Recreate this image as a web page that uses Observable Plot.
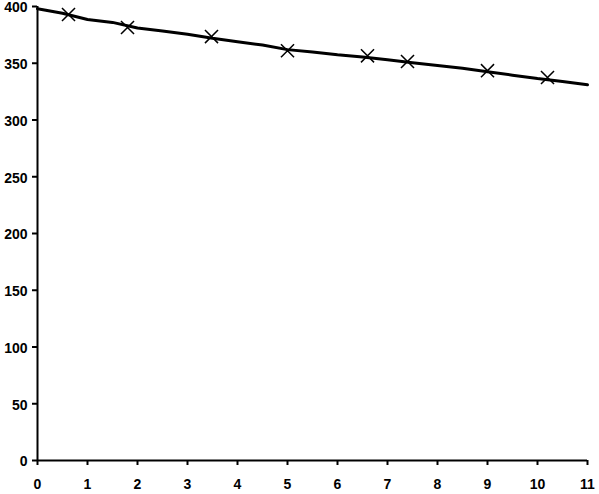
<!DOCTYPE html>
<html>
<head>
<meta charset="utf-8">
<script src="https://cdn.jsdelivr.net/npm/d3@7"></script>
<script src="https://cdn.jsdelivr.net/npm/@observablehq/plot@0.6"></script>
<style>
  html, body { margin: 0; padding: 0; background: #fff; }
  #chart svg { display: block; }
</style>
</head>
<body>
<div id="chart"></div>
<script>
// Measured points (x markers)
const markerX = [0.62, 1.8, 3.48, 5.0, 6.6, 7.4, 9.0, 10.2];
const markerY = [393, 381.5, 373.5, 361, 356.5, 351.5, 343.5, 337.5];

// Fitted line
const lineX = [0, 0.5, 1, 1.5, 2, 2.5, 3, 3.5, 4, 4.5, 5, 5.5, 6, 6.5, 7, 7.5, 8, 8.5, 9, 9.5, 10, 10.5, 11];
const lineY = [398, 394, 388.5, 386, 381, 378.5, 375.5, 372, 369, 366, 362, 360, 357.5, 355.5, 353, 350.5, 348, 345.5, 342.5, 339.5, 336.5, 334, 331];

const xTicks = [0, 1, 2, 3, 4, 5, 6, 7, 8, 9, 10, 11];
const yTicks = [0, 50, 100, 150, 200, 250, 300, 350, 400];

const markers = markerX.map((x, i) => ({x, y: markerY[i]}));
const line = lineX.map((x, i) => ({x, y: lineY[i]}));

const chart = Plot.plot({
  width: 599,
  height: 494,
  marginLeft: 37,
  marginRight: 12,
  marginTop: 6,
  marginBottom: 34,
  style: {fontFamily: "'Liberation Sans', Arial, sans-serif", fontSize: "14px", fontWeight: "bold", color: "#000", background: "#fff", overflow: "visible"},
  x: {domain: [0, 11]},
  y: {domain: [0, 400]},
  marks: [
    Plot.axisX({ticks: xTicks, tickFormat: d => String(d), tickSize: 5, tickPadding: 14, strokeWidth: 2, label: null, fontWeight: "bold", fontSize: 14}),
    Plot.axisY({ticks: yTicks, tickFormat: () => "", tickSize: 5, strokeWidth: 2, label: null}),
    Plot.text(yTicks, {y: d => d, text: d => String(d), frameAnchor: "left", textAnchor: "end", dx: -10, dy: 1.5, fontWeight: "bold", fontSize: 14, fill: "#000"}),
    Plot.ruleX([0], {stroke: "#000", strokeWidth: 2}),
    Plot.ruleY([0], {stroke: "#000", strokeWidth: 2}),
    Plot.line(line, {x: "x", y: "y", stroke: "#000", strokeWidth: 3}),
    Plot.dot(markers, {x: "x", y: "y", symbol: "times", r: 6, stroke: "#000", strokeWidth: 1.5})
  ]
});
document.getElementById("chart").append(chart);
</script>
</body>
</html>
